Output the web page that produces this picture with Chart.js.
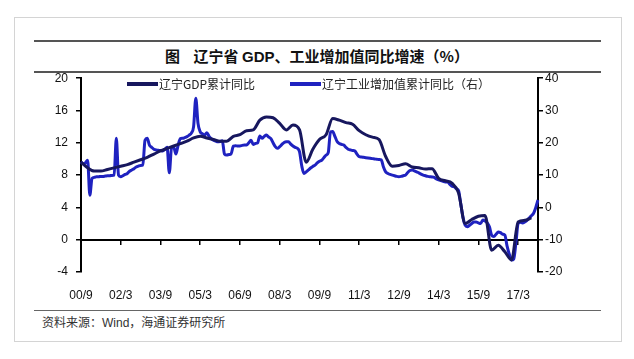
<!DOCTYPE html>
<html>
<head>
<meta charset="utf-8">
<script src="https://cdn.jsdelivr.net/npm/chart.js@4"></script>
<style>
  body { margin: 0; background: #fff; width: 634px; height: 359px; position: relative; overflow: hidden; }
  #frame { position: absolute; left: 14px; top: 17px; width: 606px; height: 323px; border: 1px solid #d4d4d4; }
  .rule { position: absolute; left: 34px; width: 567px; height: 0; border-top: 2px solid #555; }
  #title { position: absolute; left: 0; width: 634px; top: 46px; text-align: center; font: bold 15px "Noto Sans CJK SC", sans-serif; color: #111; line-height: 20px; }
  #title b { font-family: "Liberation Sans", Arial, sans-serif; }
  #src { position: absolute; left: 42px; top: 313px; font: 12px "Noto Sans CJK SC", sans-serif; color: #333; }
  #src span { font-family: "Liberation Sans", Arial, sans-serif; }
  #chart { position: absolute; left: 0; top: 63px; }
</style>
</head>
<body>
<div id="frame"></div>
<div class="rule" style="top:40px"></div>
<div id="title">图&nbsp;&nbsp;&nbsp;&nbsp;辽宁省 <b>GDP</b>、工业增加值同比增速（%）</div>
<div class="rule" style="top:71px"></div>
<canvas id="chart" width="634" height="245"></canvas>
<div class="rule" style="top:310px;border-top:1.5px solid #666"></div>
<div id="src">资料来源：<span>Wind</span>，海通证券研究所</div>
<script>
// monthly categories 2000/9 .. 2017/12
const startYear = 2000, startMonth = 9, monthCount = 208;
const seriesNames = ["辽宁GDP累计同比", "辽宁工业增加值累计同比（右）"];
const xTickLabels = ["00/9", "02/3", "03/9", "05/3", "06/9", "08/3", "09/9", "11/3", "12/9", "14/3", "15/9", "17/3"];
const leftTicks = { min: -4, max: 20, step: 4 };
const rightTicks = { min: -20, max: 40, step: 10 };

// GDP cumulative yoy, quarterly, 2000Q3 .. 2017Q3 (left axis)
const gdpQuarterly = [
  9.6, 8.9,
  8.5, 8.5, 8.7, 8.9,
  9.1, 9.3, 9.6, 9.9,
  10.2, 10.6, 11.0, 11.3,
  11.6, 11.9, 12.2, 12.6,
  12.8, 12.6, 12.4, 12.2,
  12.2, 12.8, 13.0, 13.5,
  13.6, 14.8, 15.2, 15.1,
  14.4, 13.6, 14.2, 13.6,
  9.6, 11.2, 12.4, 13.0,
  15.0, 14.8, 14.5, 14.3,
  13.5, 13.0, 12.7, 12.4,
  10.3, 9.1, 9.2, 9.4,
  9.0, 8.9, 8.75, 8.8,
  7.6, 7.3, 7.0, 5.8,
  2.0, 2.5, 2.9, 3.0,
  -1.3, -0.7, -1.5, -2.5,
  2.2, 2.4, 2.7
];

// industrial value added cumulative yoy, monthly 2000/9 .. 2017/12 (right axis)
const ivaMonthly = [
  14.1, 13.5, 13.8, 14.6,
  3.8, 9.0, 9.3, 9.5, 9.5, 9.6, 9.6, 9.7, 9.8, 9.8, 9.9, 10.0,
  21.4, 10.0, 9.5, 9.8, 10.2, 10.5, 11.2, 11.6, 12.0, 12.5, 12.8, 13.0,
  13.1, 20.8, 21.4, 19.3, 18.6, 18.0, 17.8, 17.7, 17.6, 17.5, 18.0, 18.6,
  10.7, 18.3, 18.6, 16.5, 19.3, 21.3, 21.4, 21.6, 21.9, 22.4, 23.0, 25.0,
  33.8, 26.0, 23.4, 22.8, 22.4, 23.1, 22.0, 21.3, 20.8, 20.5, 20.3, 20.4,
  20.6, 16.5, 16.2, 16.4, 16.6, 19.0, 19.1, 19.0, 19.0, 19.2, 19.3, 19.3,
  20.0, 20.8, 19.5, 19.8, 20.0, 22.1, 21.4, 22.0, 22.4, 21.8, 21.3, 20.0,
  18.8, 18.3, 18.8, 19.5, 20.1, 20.3, 20.3, 19.6, 19.0, 18.6, 18.3, 17.2,
  12.8, 10.5, 11.0, 11.6, 12.2, 12.7, 13.1, 13.8, 14.3, 14.6, 15.4, 16.2,
  17.0, 23.4, 23.5, 22.0, 20.4, 19.8, 19.5, 19.3, 18.6, 18.0, 17.8, 17.6,
  17.5, 16.5, 15.7, 15.6, 15.5, 15.4, 15.3, 15.2, 15.1, 15.0, 14.9, 14.8,
  14.7, 12.5, 11.0, 10.5, 10.2, 10.0, 9.8, 9.6, 9.5, 9.6, 9.8, 10.0,
  10.8, 11.4, 11.6, 11.3, 11.0, 10.7, 10.3, 10.0, 9.8, 9.6, 9.5, 9.4,
  9.3, 8.8, 8.5, 8.3, 8.1, 7.9, 7.9, 7.2, 6.6, 6.4, 5.8, 5.2,
  1.2, -3.0, -5.5, -6.0, -5.5, -5.0, -4.5, -4.5, -4.8, -5.0, -3.9, -4.2,
  -4.8, -6.0, -8.6, -9.0, -8.3, -7.6, -7.8, -8.3, -8.6, -12.0, -14.5, -16.3,
  -16.0, -11.0, -5.0, -4.6, -4.8, -4.5, -4.0, -3.3, -2.6, -1.8, 0.0, 2.3
];

const gdpColor = "#17175e";
const ivaColor = "#1f22c0";

const months = [];
for (let i = 0; i < monthCount; i++) {
  const m = startMonth - 1 + i;
  const y = startYear + Math.floor(m / 12);
  months.push(String(y % 100).padStart(2, "0") + "/" + ((m % 12) + 1));
}
const gdpPoints = gdpQuarterly.map((v, i) => ({ x: months[i * 3], y: v }));

const axisFont = { family: "'Liberation Sans', Arial, sans-serif", size: 12 };
const showTick = function (value) {
  const lab = this.getLabelForValue(value);
  return xTickLabels.includes(lab) ? lab : null;
};

const insideLegend = {
  id: "insideLegend",
  afterDraw(chart) {
    const ctx = chart.ctx;
    const items = [
      { x: 127, color: gdpColor, text: seriesNames[0] },
      { x: 290, color: ivaColor, text: seriesNames[1] }
    ];
    ctx.save();
    ctx.font = "12px 'Noto Sans CJK SC', sans-serif";
    ctx.textBaseline = "middle";
    ctx.fillStyle = "#222";
    items.forEach(it => {
      ctx.strokeStyle = it.color;
      ctx.lineWidth = 4;
      ctx.beginPath();
      ctx.moveTo(it.x, 21);
      ctx.lineTo(it.x + 31, 21);
      ctx.stroke();
      ctx.fillText(it.text, it.x + 32, 21);
    });
    ctx.restore();
  }
};

new Chart(document.getElementById("chart"), {
  type: "line",
  data: {
    labels: months,
    datasets: [
      {
        label: seriesNames[0],
        data: gdpPoints,
        yAxisID: "y",
        borderColor: gdpColor,
        backgroundColor: gdpColor,
        borderWidth: 3,
        pointRadius: 0,
        spanGaps: true,
        cubicInterpolationMode: "monotone"
      },
      {
        label: seriesNames[1],
        data: ivaMonthly,
        yAxisID: "y1",
        borderColor: ivaColor,
        backgroundColor: ivaColor,
        borderWidth: 3,
        pointRadius: 0,
        cubicInterpolationMode: "monotone"
      }
    ]
  },
  options: {
    responsive: false,
    animation: false,
    devicePixelRatio: 1,
    layout: { padding: { top: 1, left: 0, right: 0, bottom: 0 } },
    plugins: { legend: { display: false }, tooltip: { enabled: false } },
    scales: {
      x: {
        position: "bottom",
        grid: { display: false },
        border: { display: false },
        ticks: { autoSkip: false, maxRotation: 0, padding: 8, color: "#111", font: axisFont, callback: showTick },
        afterFit: s => { s.height = 36; }
      },
      x2: {
        type: "category",
        position: { y: 0 },
        grid: { drawOnChartArea: false, drawTicks: true, tickLength: 4, color: "#000", lineWidth: 1.5 },
        border: { display: true, color: "#000", width: 2 },
        ticks: { display: false, autoSkip: false, callback: showTick },
        afterFit: s => { s.height = 0; }
      },
      y: {
        position: "left",
        min: leftTicks.min,
        max: leftTicks.max,
        grid: { drawOnChartArea: false, drawTicks: true, tickLength: 5, color: "#000", lineWidth: 1.5 },
        border: { display: true, color: "#000", width: 2 },
        ticks: { stepSize: leftTicks.step, padding: 8, color: "#111", font: axisFont },
        afterFit: s => { s.width = 81; }
      },
      y1: {
        position: "right",
        min: rightTicks.min,
        max: rightTicks.max,
        grid: { drawOnChartArea: false, drawTicks: true, tickLength: 5, color: "#000", lineWidth: 1.5 },
        border: { display: true, color: "#000", width: 2 },
        ticks: { stepSize: rightTicks.step, padding: 2, color: "#111", font: axisFont },
        afterFit: s => { s.width = 96; }
      }
    }
  },
  plugins: [insideLegend]
});
</script>
</body>
</html>
